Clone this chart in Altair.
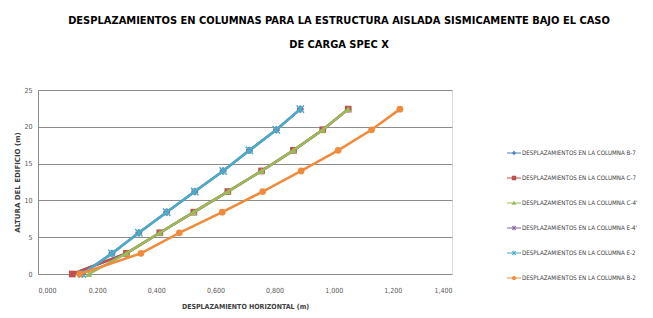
import altair as alt
import pandas as pd

series = [
    "DESPLAZAMIENTOS EN LA COLUMNA B-7",
    "DESPLAZAMIENTOS EN LA COLUMNA C-7",
    "DESPLAZAMIENTOS EN LA COLUMNA C-4'",
    "DESPLAZAMIENTOS EN LA COLUMNA E-4'",
    "DESPLAZAMIENTOS EN LA COLUMNA E-2",
    "DESPLAZAMIENTOS EN LA COLUMNA B-2",
]
colors = ["#4F81BD", "#C0504D", "#9BBB59", "#8064A2", "#4BACC6", "#F08B3E"]

alturas = [0, 2.8, 5.6, 8.4, 11.2, 14.0, 16.8, 19.6, 22.4]
b7 = [0.116, 0.299, 0.412, 0.527, 0.642, 0.756, 0.864, 0.963, 1.049]
c7 = [0.116, 0.299, 0.412, 0.527, 0.642, 0.756, 0.864, 0.963, 1.049]
c4 = [0.172, 0.299, 0.412, 0.527, 0.642, 0.756, 0.864, 0.963, 1.049]
e4 = [0.150, 0.250, 0.341, 0.435, 0.530, 0.626, 0.715, 0.806, 0.887]
e2 = [0.150, 0.250, 0.341, 0.435, 0.530, 0.626, 0.715, 0.806, 0.887]
b2 = [0.141, 0.348, 0.478, 0.623, 0.760, 0.890, 1.015, 1.128, 1.224]
valores = [b7, c7, c4, e4, e2, b2]

rows = []
for s, vals in zip(series, valores):
    for h, d in zip(alturas, vals):
        rows.append({"serie": s, "desp": d, "altura": h})
df = pd.DataFrame(rows)

NARROW = "DejaVu Sans Condensed"

x_enc = alt.X(
    "desp:Q",
    scale=alt.Scale(domain=[0, 1.4], nice=False),
    axis=alt.Axis(
        values=[0, 0.2, 0.4, 0.6, 0.8, 1.0, 1.2, 1.4],
        labelExpr="replace(format(datum.value, '.3f'), '.', ',')",
        grid=False, domain=False, ticks=False,
        labelFont=NARROW, labelFontSize=7, labelColor="#595959",
        labelPadding=12,
        title="DESPLAZAMIENTO HORIZONTAL (m)",
        titleFont=NARROW, titleFontSize=7, titleFontWeight="bold",
        titleColor="#404040", titlePadding=9,
    ),
)
y_enc = alt.Y(
    "altura:Q",
    scale=alt.Scale(domain=[0, 25], nice=False),
    axis=alt.Axis(
        values=[0, 5, 10, 15, 20, 25],
        grid=True, gridColor="#8C8C8C", gridWidth=1,
        domain=True, domainColor="#8C8C8C", ticks=False,
        labelFont=NARROW, labelFontSize=7, labelColor="#595959",
        labelPadding=6,
        title="ALTURA DEL EDIFICIO (m)",
        titleFont="DejaVu Sans", titleFontSize=7, titleFontWeight="bold",
        titleColor="#404040", titlePadding=3,
    ),
)

chart_shapes = ["diamond", "square", "triangle-up", "cross",
                "M-1,-1L1,1M1,-1L-1,1M0,-1L0,1", "circle"]
chart_filled = [True, True, True, True, False, True]

line_rect = "M-1,-0.08L1,-0.08L1,0.08L-1,0.08Z"
star = ("M-0.32,-0.24L-0.24,-0.32L0.32,0.24L0.24,0.32Z"
        "M0.24,-0.32L0.32,-0.24L-0.24,0.32L-0.32,0.24Z"
        "M-0.05,-0.34L0.05,-0.34L0.05,0.34L-0.05,0.34Z")
legend_shapes = [
    line_rect + "M0,-0.32L0.32,0L0,0.32L-0.32,0Z",
    line_rect + "M-0.32,-0.32L0.32,-0.32L0.32,0.32L-0.32,0.32Z",
    line_rect + "M0,-0.34L0.34,0.26L-0.34,0.26Z",
    line_rect + star,
    line_rect + star,
    line_rect + "M-0.3,0A0.3,0.3,0,1,1,0.3,0A0.3,0.3,0,1,1,-0.3,0Z",
]

base = alt.Chart(df)
layers = []
for s, col, shp, fil in zip(series, colors, chart_shapes, chart_filled):
    sub = base.transform_filter(alt.datum.serie == s)
    layers.append(
        sub.mark_line(strokeWidth=2.5, color=col).encode(
            x=x_enc, y=y_enc, order=alt.Order("altura:Q"),
        )
    )
    if fil:
        pts = sub.mark_point(shape=shp, filled=True, size=45, opacity=1, color=col)
    else:
        pts = sub.mark_point(shape=shp, filled=False, size=55, strokeWidth=1.5,
                             opacity=1, color=col)
    layers.append(pts.encode(x=x_enc, y=y_enc))

# legend-only layer: no rows survive the filter, the legend comes from the scale domain
legend_layer = base.transform_filter(alt.datum.altura < -1).mark_point(
    filled=True, opacity=1
).encode(
    x=x_enc, y=y_enc,
    color=alt.Color(
        "serie:N", scale=alt.Scale(domain=series, range=colors),
        legend=alt.Legend(
            title=None, orient="none", legendX=469, legendY=56,
            symbolSize=196, symbolStrokeWidth=0, symbolOpacity=1,
            labelFont=NARROW, labelFontSize=6.2, labelColor="#404040",
            labelOffset=1, rowPadding=14, labelLimit=300,
        ),
    ),
    shape=alt.Shape("serie:N", scale=alt.Scale(domain=series, range=legend_shapes)),
)
layers.append(legend_layer)

chart = alt.layer(*layers).properties(
    width=414,
    height=184,
    autosize=alt.AutoSizeParams(type="none"),
    padding={"left": 30, "top": 82, "right": 193, "bottom": 36},
    title=alt.TitleParams(
        text=["DESPLAZAMIENTOS EN COLUMNAS PARA LA ESTRUCTURA AISLADA SISMICAMENTE BAJO EL CASO",
              "DE CARGA SPEC X"],
        font=NARROW, fontSize=11, fontWeight="bold", color="#000000",
        anchor="middle", dx=94, offset=36, lineHeight=24,
    ),
).configure_view(stroke=None).configure(background="white")

chart.save("out.html", embed_options={"renderer": "svg", "actions": False})
